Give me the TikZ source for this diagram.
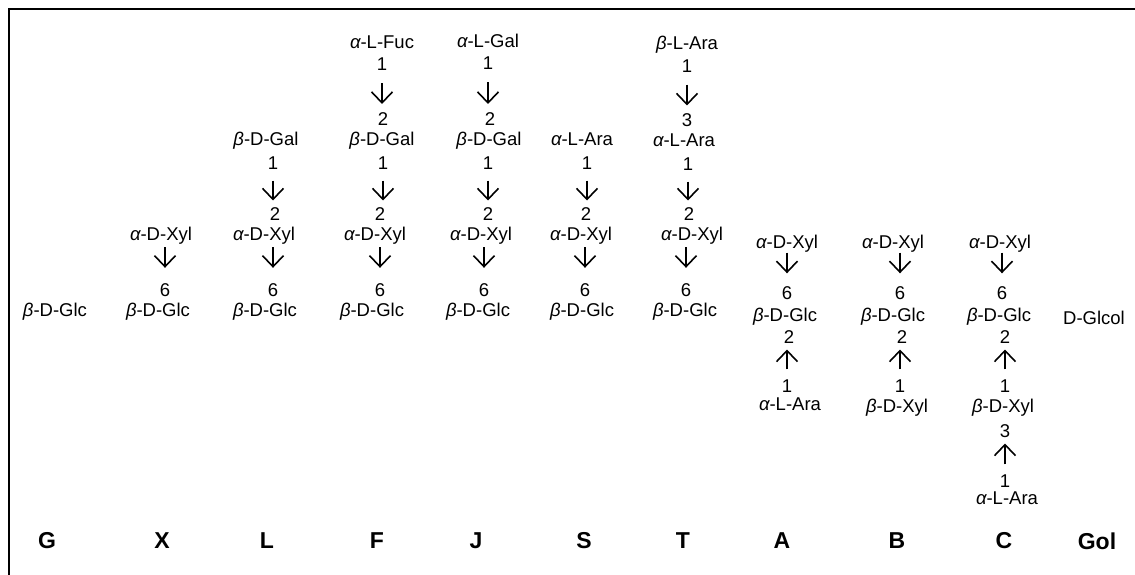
\documentclass[tikz,border=0pt]{standalone}
\usepackage{fontspec}
\setmainfont{Liberation Sans}
\usetikzlibrary{arrows.meta}
\newcommand{\galpha}{{\itshape α}}
\newcommand{\gbeta}{{\itshape β}}
\tikzset{
  t/.style={inner sep=0pt, text height=13pt, text depth=0pt, font=\fontsize{18.5}{21}\selectfont},
  lab/.style={inner sep=0pt, font=\fontsize{23}{25}\selectfont\bfseries},
  arr/.style={line width=1.6pt, -{Straight Barb[length=11pt,width=21pt]}},
  lk/.style={arr, shorten <=#1-4pt, shorten >=#1-1.5pt},
  frame/.style={line width=2pt}
}
\begin{document}
\begin{tikzpicture}[x=1pt,y=-1pt]
\useasboundingbox (0,0) rectangle (1135,575);
\draw[frame] (1135,9) -- (9,9) -- (9,575);

% G
\node[t] (Gglc) at (55,310) {\gbeta-D-Glc};
% X
\node[t] (Xxyl) at (161,234) {\galpha-D-Xyl};
\node[t] (X6) at (165,290) {6};
\node[t] (Xglc) at (158,310) {\gbeta-D-Glc};
\draw[lk=17pt] (X6 |- Xxyl) -- (X6);
% L
\node[t] (Lgal) at (266,139) {\gbeta-D-Gal};
\node[t] (L1) at (273,163) {1};
\node[t] (L2) at (275,214) {2};
\node[t] (Lxyl) at (264,234) {\galpha-D-Xyl};
\node[t] (L6) at (273,290) {6};
\node[t] (Lglc) at (265,310) {\gbeta-D-Glc};
\draw[lk=15pt] (L1) -- (L1 |- L2);
\draw[lk=17pt] (L6 |- Lxyl) -- (L6);
% F
\node[t] (Ffuc) at (382,42) {\galpha-L-Fuc};
\node[t] (F1a) at (382,64) {1};
\node[t] (F2a) at (383,119) {2};
\node[t] (Fgal) at (382,139) {\gbeta-D-Gal};
\node[t] (F1b) at (383,163) {1};
\node[t] (F2b) at (380,214) {2};
\node[t] (Fxyl) at (375,234) {\galpha-D-Xyl};
\node[t] (F6) at (380,290) {6};
\node[t] (Fglc) at (372,310) {\gbeta-D-Glc};
\draw[lk=16.5pt] (F1a) -- (F1a |- F2a);
\draw[lk=15pt] (F1b) -- (F1b |- F2b);
\draw[lk=17pt] (F6 |- Fxyl) -- (F6);
% J
\node[t] (Jgala) at (488,41) {\galpha-L-Gal};
\node[t] (J1a) at (488,63) {1};
\node[t] (J2a) at (490,119) {2};
\node[t] (Jgalb) at (489,139) {\gbeta-D-Gal};
\node[t] (J1b) at (488,163) {1};
\node[t] (J2b) at (488,214) {2};
\node[t] (Jxyl) at (481,234) {\galpha-D-Xyl};
\node[t] (J6) at (484,290) {6};
\node[t] (Jglc) at (478,310) {\gbeta-D-Glc};
\draw[lk=16.5pt] (J1a) -- (J1a |- J2a);
\draw[lk=15pt] (J1b) -- (J1b |- J2b);
\draw[lk=17pt] (J6 |- Jxyl) -- (J6);
% S
\node[t] (Sara) at (582,139) {\galpha-L-Ara};
\node[t] (S1) at (587,163) {1};
\node[t] (S2) at (586,214) {2};
\node[t] (Sxyl) at (581,234) {\galpha-D-Xyl};
\node[t] (S6) at (585,290) {6};
\node[t] (Sglc) at (582,310) {\gbeta-D-Glc};
\draw[lk=15pt] (S1) -- (S1 |- S2);
\draw[lk=17pt] (S6 |- Sxyl) -- (S6);
% T
\node[t] (Taraa) at (687,43) {\gbeta-L-Ara};
\node[t] (T1a) at (687,66) {1};
\node[t] (T3) at (687,120) {3};
\node[t] (Tarab) at (684,140) {\galpha-L-Ara};
\node[t] (T1b) at (688,164) {1};
\node[t] (T2) at (689,214) {2};
\node[t] (Txyl) at (692,234) {\galpha-D-Xyl};
\node[t] (T6) at (686,290) {6};
\node[t] (Tglc) at (685,310) {\gbeta-D-Glc};
\draw[lk=16pt] (T1a) -- (T1a |- T3);
\draw[lk=15pt] (T1b) -- (T1b |- T2);
\draw[lk=17pt] (T6 |- Txyl) -- (T6);
% A
\node[t] (Axyl) at (787,242) {\galpha-D-Xyl};
\node[t] (A6) at (787,293) {6};
\node[t] (Aglc) at (785,315) {\gbeta-D-Glc};
\node[t] (A2) at (789,337) {2};
\node[t] (A1) at (787,386) {1};
\node[t] (Aara) at (790,404) {\galpha-L-Ara};
\draw[lk=14.5pt] (A6 |- Axyl) -- (A6);
\draw[lk=14pt] (A1) -- (A1 |- A2);
% B
\node[t] (Bxyl) at (893,242) {\galpha-D-Xyl};
\node[t] (B6) at (900,293) {6};
\node[t] (Bglc) at (893,315) {\gbeta-D-Glc};
\node[t] (B2) at (902,337) {2};
\node[t] (B1) at (900,386) {1};
\node[t] (Bxylb) at (897,406) {\gbeta-D-Xyl};
\draw[lk=14.5pt] (B6 |- Bxyl) -- (B6);
\draw[lk=14pt] (B1) -- (B1 |- B2);
% C
\node[t] (Cxyl) at (1000,242) {\galpha-D-Xyl};
\node[t] (C6) at (1002,293) {6};
\node[t] (Cglc) at (999,315) {\gbeta-D-Glc};
\node[t] (C2) at (1005,337) {2};
\node[t] (C1a) at (1005,386) {1};
\node[t] (Cxylb) at (1003,406) {\gbeta-D-Xyl};
\node[t] (C3) at (1005,431) {3};
\node[t] (C1b) at (1005,481) {1};
\node[t] (Cara) at (1007,498) {\galpha-L-Ara};
\draw[lk=14.5pt] (C6 |- Cxyl) -- (C6);
\draw[lk=14pt] (C1a) -- (C1a |- C2);
\draw[lk=14pt] (C1b) -- (C1b |- C3);
% Gol
\node[t] (Glcol) at (1094,318) {D-Glcol};

% labels
\node[lab] (lG) at (47,541) {G};
\node[lab] (lX) at (162,541) {X};
\node[lab] (lL) at (267,541) {L};
\node[lab] (lF) at (377,541) {F};
\node[lab] (lJ) at (476,541) {J};
\node[lab] (lS) at (584,541) {S};
\node[lab] (lT) at (683,541) {T};
\node[lab] (lA) at (782,541) {A};
\node[lab] (lB) at (897,541) {B};
\node[lab] (lC) at (1004,541) {C};
\node[lab] (lGol) at (1097,541) {Gol};
\end{tikzpicture}
\end{document}
